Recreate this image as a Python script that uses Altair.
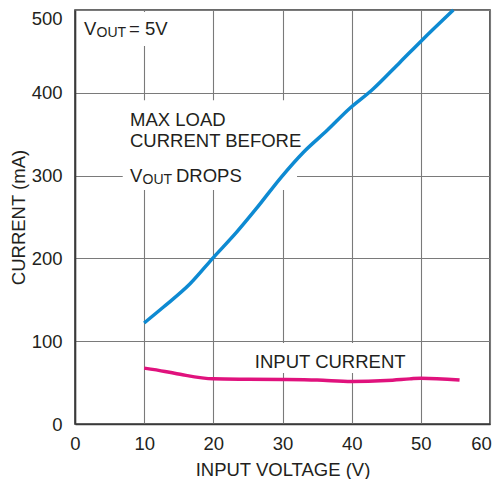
import altair as alt
import pandas as pd

# Max load current before VOUT drops (blue)
max_v = [10, 12.75, 16.6, 20, 23.4, 26.2, 29.8, 33, 36.5, 39.7, 42.9, 47, 50.1, 54.7]
max_i = [122, 141, 169, 201, 232, 260, 298, 328, 355, 381, 403, 437, 463, 500]
# Input current (pink)
in_v = [10, 13, 15.2, 20, 25, 30, 35, 40, 45, 48.4, 50, 55.6]
in_i = [67.5, 63.5, 60, 54.5, 54, 53.7, 53, 51.3, 52.5, 54.5, 55.4, 53.2]

x_ticks = [0, 10, 20, 30, 40, 50, 60]
y_ticks = [0, 100, 200, 300, 400, 500]

FONT = "Liberation Sans, Arial, sans-serif"
FS = 18.5
SUBFS = 14
BLUE = "#0D8AD2"
PINK = "#E0127D"
TXT = "#231F20"

lines = pd.DataFrame(
    {"v": max_v + in_v,
     "i": max_i + in_i,
     "s": ["max"] * len(max_v) + ["in"] * len(in_v)}
)

# white label backgrounds (data units)
box_x = [1.0, 6.9, 25.3]
box_x2 = [15.2, 32.1, 47.7]
box_y = [497.5, 391, 97.8]
box_y2 = [456.5, 282.6, 61.6]
boxes = pd.DataFrame({"x": box_x, "x2": box_x2, "y": box_y, "y2": box_y2})

# main text labels
lab_text = ["V", "= 5V", "MAX LOAD", "CURRENT BEFORE", "V", "DROPS", "INPUT CURRENT"]
lab_x = [1.30, 7.81, 7.95, 7.95, 7.95, 14.6, 26.0]
lab_y = [469.8, 469.8, 359.9, 334.5, 292.6, 292.6, 68.0]
labels = pd.DataFrame({"t": lab_text, "x": lab_x, "y": lab_y})

# subscripts
sub_text = ["OUT", "OUT"]
sub_x = [3.11, 9.76]
sub_y = [467.4, 289.9]
subs = pd.DataFrame({"t": sub_text, "x": sub_x, "y": sub_y})

xscale = alt.Scale(domain=[0, 60], nice=False)
yscale = alt.Scale(domain=[0, 500], nice=False)

xaxis = alt.Axis(
    values=x_ticks, title="INPUT VOLTAGE (V)", ticks=False, labelPadding=10,
    titlePadding=8, labelFlush=False,
    labelOffset={"condition": {"test": "datum.value == 60", "value": -9}, "value": 0},
)
yaxis = alt.Axis(
    values=y_ticks, title="CURRENT (mA)", ticks=False, labelPadding=13,
    titlePadding=3, labelFlush=False,
    labelOffset={"condition": {"test": "datum.value == 500", "value": 8}, "value": 0},
)

base_line = alt.Chart(lines).mark_line(strokeWidth=3.5, interpolate="monotone").encode(
    x=alt.X("v:Q", scale=xscale, axis=xaxis),
    y=alt.Y("i:Q", scale=yscale, axis=yaxis),
    color=alt.Color("s:N", scale=alt.Scale(domain=["max", "in"], range=[BLUE, PINK]), legend=None),
    detail="s:N",
)

rects = alt.Chart(boxes).mark_rect(fill="white").encode(
    x=alt.X("x:Q", scale=xscale),
    x2="x2:Q",
    y=alt.Y("y:Q", scale=yscale),
    y2="y2:Q",
)

texts = alt.Chart(labels).mark_text(
    align="left", baseline="alphabetic", font=FONT, fontSize=FS, color=TXT
).encode(
    x=alt.X("x:Q", scale=xscale),
    y=alt.Y("y:Q", scale=yscale),
    text="t:N",
)

subtexts = alt.Chart(subs).mark_text(
    align="left", baseline="alphabetic", font=FONT, fontSize=SUBFS, color=TXT
).encode(
    x=alt.X("x:Q", scale=xscale),
    y=alt.Y("y:Q", scale=yscale),
    text="t:N",
)

chart = alt.layer(rects, base_line, texts, subtexts).properties(
    width=415,
    height=414,
    autosize=alt.AutoSizeParams(type="none"),
    padding={"left": 67, "top": 2, "right": 2, "bottom": 55},
).configure_view(
    stroke="#3a3a3a", strokeWidth=1.6
).configure_axis(
    labelFont=FONT, labelFontSize=FS, labelColor=TXT,
    titleFont=FONT, titleFontSize=FS, titleColor=TXT, titleFontWeight="normal",
    grid=True, gridColor="#7a7a7a", gridWidth=1.1,
    domainColor="#3a3a3a", domainWidth=1.6,
)

chart.save("out.html", embed_options={"renderer": "svg", "actions": False})
